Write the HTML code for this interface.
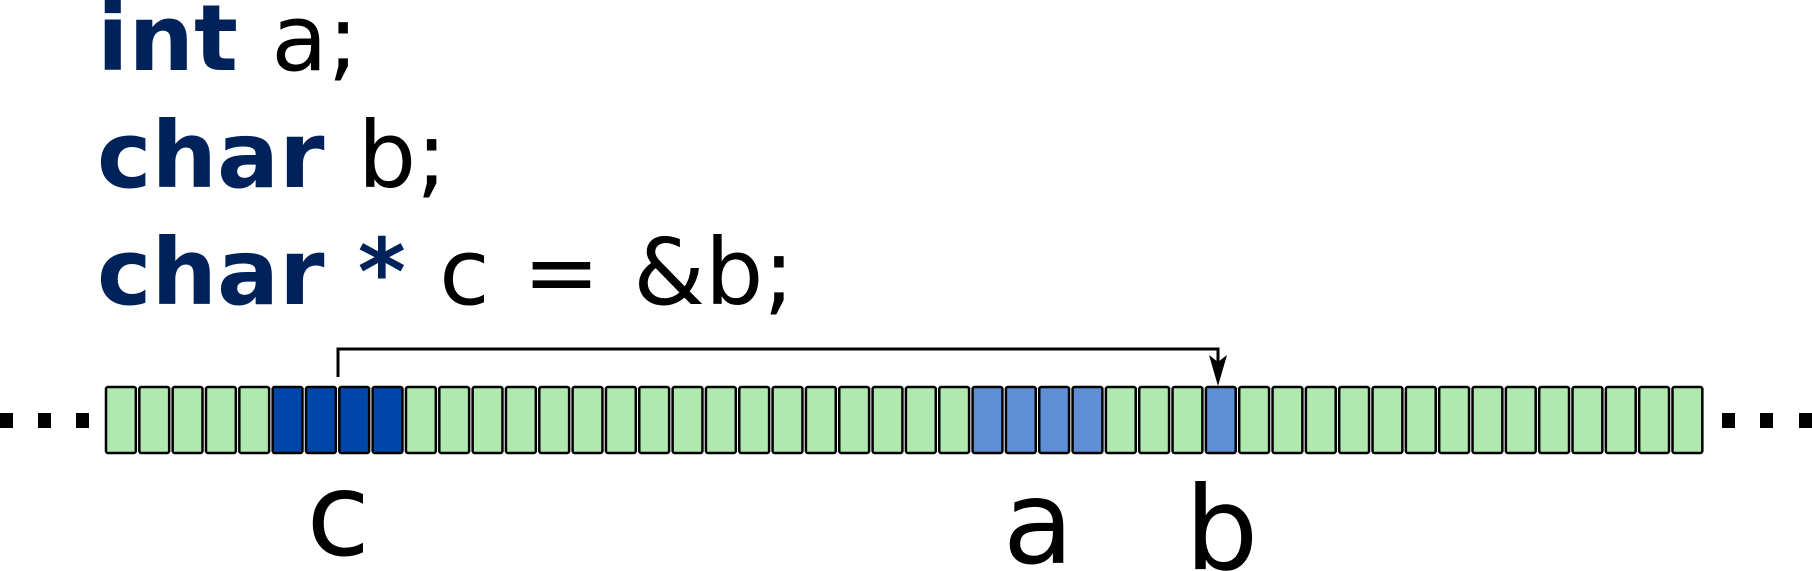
<!DOCTYPE html>
<html><head><meta charset="utf-8"><style>
html,body{margin:0;padding:0;background:#fff;width:1812px;height:571px;overflow:hidden}
svg{display:block}
text{font-family:"DejaVu Sans","Liberation Sans",sans-serif}
</style></head><body>
<svg id="s" width="1812" height="571" viewBox="0 0 1812 571">
<g font-size="92" word-spacing="4">
<text x="97" y="70"><tspan font-weight="bold" fill="#00225a">int</tspan> a;</text>
<text x="97" y="187"><tspan font-weight="bold" fill="#00225a">char</tspan> b;</text>
<text x="97" y="304" word-spacing="4"><tspan font-weight="bold" fill="#00225a">char</tspan> <tspan font-weight="bold" fill="#00225a">*</tspan> c = &amp;b;</text>
</g>
<g id="cells"></g>
<g id="dots"></g>
<path d="M338 377 V349 H1218 V370" fill="none" stroke="#000" stroke-width="3"/>
<path d="M1209 355 L1218 362 L1227 355 L1218 386 Z" fill="#000"/>
<g id="labels" font-size="116"></g>
</svg>
<script>
const cellCount = 48;
const cDark = [5,6,7,8];
const cLight = [26,27,28,29,33];
const labelNames = ["c","a","b"];
const labelCenters = [7,28,33.5];
const labelBaselines = [555,563,569];

const NS="http://www.w3.org/2000/svg";
const cellX0=105, pitch=33.33, cellTop=386, cellH=68;
const xs=i=>cellX0+i*pitch;
const cells=document.getElementById('cells');
for(let i=0;i<cellCount;i++){
  const r=document.createElementNS(NS,'rect');
  r.setAttribute('x',xs(i)+1);r.setAttribute('y',cellTop+1);
  r.setAttribute('width',pitch-3.5);r.setAttribute('height',cellH-2);
  r.setAttribute('rx',2);
  let fill='#b0e9b0';
  if(cDark.includes(i))fill='#0045a8';
  else if(cLight.includes(i))fill='#5f8fd5';
  r.setAttribute('fill',fill);r.setAttribute('stroke','#000');r.setAttribute('stroke-width','2.5');
  
  
  cells.appendChild(r);
}
const dots=document.getElementById('dots');
[0,38,76,1722,1760,1799].forEach(x=>{
  const r=document.createElementNS(NS,'rect');
  r.setAttribute('x',x);r.setAttribute('y',413);r.setAttribute('width',13);r.setAttribute('height',15);
  r.setAttribute('fill','#000');
  
  
  dots.appendChild(r);
});
const labels=document.getElementById('labels');
labelNames.forEach((n,i)=>{
  const t=document.createElementNS(NS,'text');
  t.setAttribute('x',xs(labelCenters[i]));t.setAttribute('y',labelBaselines[i]);
  t.setAttribute('text-anchor','middle');
  t.textContent=n;
  
  
  labels.appendChild(t);
});
</script>
</body></html>
